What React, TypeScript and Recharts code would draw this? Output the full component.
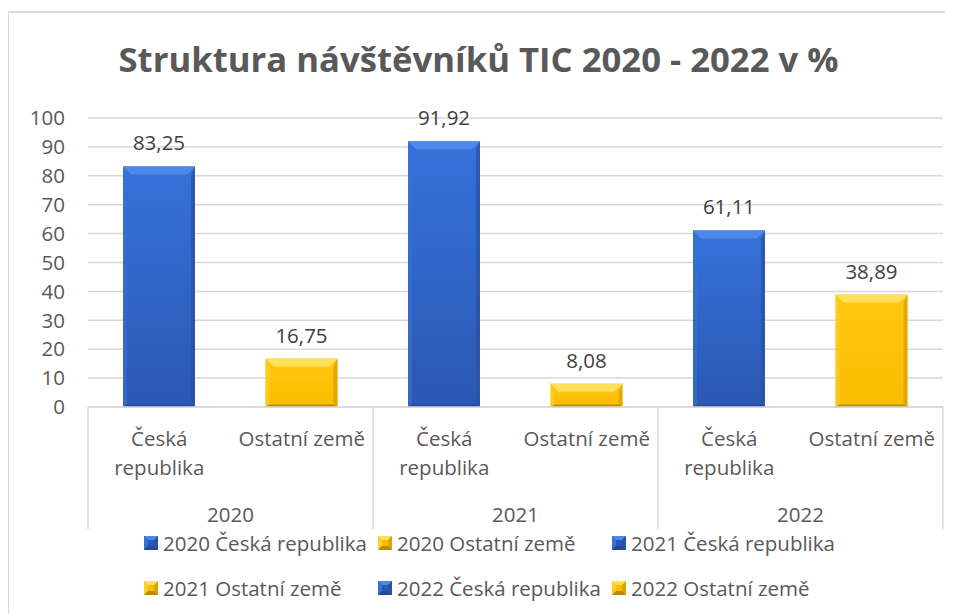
import React from "react";
import { BarChart, Bar, XAxis, YAxis, CartesianGrid, LabelList, Legend } from "recharts";

const years = ["2020", "2021", "2022"];
const categories = ["Česká republika", "Ostatní země"];
const categoryLines = [["Česká", "republika"], ["Ostatní země"]];
const ceskaValues = [83.25, 91.92, 61.11];
const ostatniValues = [16.75, 8.08, 38.89];
const yTicks = [0, 10, 20, 30, 40, 50, 60, 70, 80, 90, 100];

const data = years.flatMap((yr, i) => [
  { id: `${yr} ${categories[0]}`, year: yr, kind: 0, value: ceskaValues[i] },
  { id: `${yr} ${categories[1]}`, year: yr, kind: 1, value: ostatniValues[i] },
]);

const FONT = "'Open Sans', 'DejaVu Sans', sans-serif";
const TEXT = "#595959";
const FS = 20.5;

const PAL = [
  { id: "blue", bodyTop: "#3572da", bodyBot: "#2b58b2", top: "#4d88ea", left: "#3a6fd4", right: "#2a52a6", bottom: "#24499a" },
  { id: "gold", bodyTop: "#ffc810", bodyBot: "#fbbc00", top: "#ffe05a", left: "#ffcf2c", right: "#dba300", bottom: "#b8890a" },
];

const BevelBar = (props: any) => {
  const { x, y, width, height, payload } = props;
  if (!height || height <= 0) return null;
  const p = PAL[payload.kind];
  const b = Math.min(8, height / 2, width / 2);
  const s = 4;
  const bb = Math.min(2.5, height / 4);
  const x2 = x + width;
  const y2 = y + height;
  return (
    <g>
      <rect x={x} y={y} width={width} height={height} fill={`url(#${p.id}-body)`} />
      <polygon points={`${x},${y} ${x2},${y} ${x2 - b},${y + b} ${x + b},${y + b}`} fill={p.top} />
      <polygon points={`${x},${y} ${x + s},${y + b} ${x + s},${y2 - bb} ${x},${y2}`} fill={p.left} opacity={0.6} />
      <polygon points={`${x2},${y} ${x2},${y2} ${x2 - s},${y2 - bb} ${x2 - s},${y + b}`} fill={p.right} opacity={0.8} />
      <polygon points={`${x},${y2} ${x + s},${y2 - bb} ${x2 - s},${y2 - bb} ${x2},${y2}`} fill={p.bottom} />
    </g>
  );
};

const MultiTick = (props: any) => {
  const { x, y, index, width, visibleTicksCount } = props;
  const row = data[index];
  if (!row) return null;
  const band = width && visibleTicksCount ? width / visibleTicksCount : 142.5;
  const lines = categoryLines[row.kind];
  return (
    <g>
      {lines.map((ln: string, i: number) => (
        <text key={i} x={x} y={y + 39 + i * 29} textAnchor="middle" fontSize={FS} fill={TEXT} fontFamily={FONT}>
          {ln}
        </text>
      ))}
      {row.kind === 0 && (
        <>
          <line x1={x - band / 2} x2={x - band / 2} y1={y} y2={y + 122} stroke="#d9d9d9" strokeWidth={1.5} />
          <text x={x + band / 2} y={y + 115} textAnchor="middle" fontSize={FS} fill={TEXT} fontFamily={FONT}>
            {row.year}
          </text>
        </>
      )}
      {index === data.length - 1 && (
        <line x1={x + band / 2} x2={x + band / 2} y1={y} y2={y + 122} stroke="#d9d9d9" strokeWidth={1.5} />
      )}
    </g>
  );
};

const LegendSwatch = ({ kind }: { kind: number }) => {
  const p = PAL[kind];
  const s = 14;
  const b = 4;
  return (
    <svg width={s} height={s} style={{ display: "block" }}>
      <rect x={0} y={0} width={s} height={s} fill={p.bodyBot} />
      <polygon points={`0,0 ${s},0 ${s - b},${b} ${b},${b}`} fill={p.top} />
      <polygon points={`0,0 ${b},${b} ${b},${s - b} 0,${s}`} fill={p.left} />
      <polygon points={`${s},0 ${s},${s} ${s - b},${s - b} ${s - b},${b}`} fill={p.right} />
      <polygon points={`0,${s} ${b},${s - b} ${s - b},${s - b} ${s},${s}`} fill={p.bottom} />
    </svg>
  );
};

const LegendContent = () => (
  <div style={{ display: "grid", gridTemplateColumns: "234px 234px 234px", rowGap: 0, paddingLeft: 144 }}>
    {data.map((d) => (
      <div key={d.id} style={{ display: "flex", alignItems: "center", height: 45, gap: 5 }}>
        <LegendSwatch kind={d.kind} />
        <span style={{ fontFamily: FONT, fontSize: FS, color: TEXT, whiteSpace: "nowrap" }}>{d.id}</span>
      </div>
    ))}
  </div>
);

const fmt = (v: any) => Number(v).toFixed(2).replace(".", ",");

export default function App() {
  return (
    <div style={{ position: "relative", left: -8, top: -8, width: 953, height: 614, overflow: "hidden", background: "#fff" }}>
      <div style={{ position: "absolute", left: 0, top: 0 }}>
        <BarChart width={953} height={614} data={data} margin={{ top: 118, right: 10, bottom: 82, left: 28 }} barSize={72}>
          <defs>
            {PAL.map((p) => (
              <linearGradient key={p.id} id={`${p.id}-body`} x1="0" y1="0" x2="0" y2="1">
                <stop offset="0%" stopColor={p.bodyTop} />
                <stop offset="100%" stopColor={p.bodyBot} />
              </linearGradient>
            ))}
          </defs>
          <CartesianGrid vertical={false} stroke="#d9d9d9" strokeWidth={1.5} />
          <XAxis
            dataKey="id"
            height={125}
            axisLine={{ stroke: "#d9d9d9", strokeWidth: 1.5 }}
            tickLine={false}
            tickSize={0}
            tickMargin={0}
            interval={0}
            tick={<MultiTick />}
          />
          <YAxis
            width={60}
            domain={[0, 100]}
            ticks={yTicks}
            interval={0}
            axisLine={false}
            tickLine={false}
            tickMargin={17}
            tick={{ fontSize: FS, fill: TEXT, fontFamily: FONT }}
          />
          <Legend
            layout="horizontal"
            verticalAlign="middle"
            align="center"
            wrapperStyle={{ top: 520, left: 0, width: 953 }}
            content={<LegendContent />}
          />
          <Bar dataKey="value" isAnimationActive={false} shape={<BevelBar />}>
            <LabelList
              dataKey="value"
              position="top"
              offset={16}
              formatter={fmt}
              style={{ fontSize: FS, fill: "#404040", fontFamily: FONT }}
            />
          </Bar>
        </BarChart>
      </div>
      <div style={{ position: "absolute", left: 7, top: 11, width: 2, height: 620, background: "#d9d9d9" }} />
      <div style={{ position: "absolute", left: 7, top: 11, width: 960, height: 2, background: "#d9d9d9" }} />
      <div
        style={{
          position: "absolute",
          left: 0,
          width: 953,
          top: 34,
          textAlign: "center",
          paddingLeft: 2,
          fontFamily: FONT,
          fontWeight: 700,
          fontSize: 34.7,
          color: TEXT,
          lineHeight: "50px",
        }}
      >
        Struktura návštěvníků TIC 2020 - 2022 v %
      </div>
    </div>
  );
}
